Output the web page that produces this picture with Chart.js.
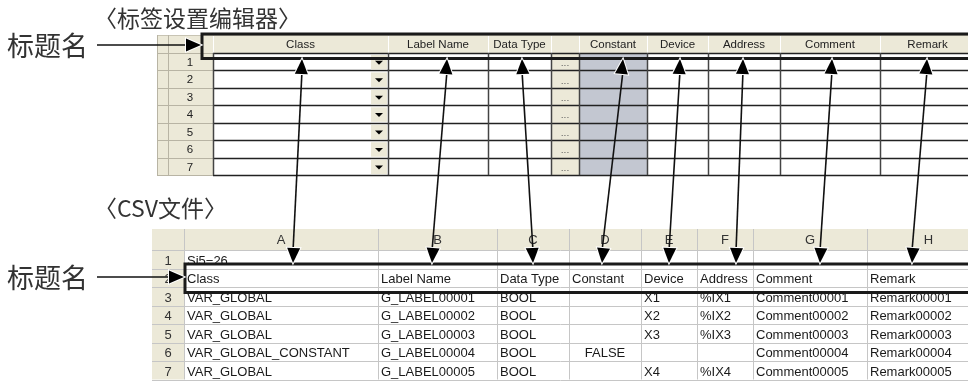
<!DOCTYPE html>
<html>
<head>
<meta charset="utf-8">
<script src="https://cdn.jsdelivr.net/npm/chart.js@4"></script>
<style>
  body { margin: 0; background: #fff; }
  canvas { display: block; }
</style>
</head>
<body>
<canvas id="diagrama" width="968" height="385"></canvas>
<script>
// Títulos y rótulos
var tituloEditor = '〈标签设置编辑器〉';
var tituloCsv = '〈CSV文件〉';
var rotuloTitulo = '标题名';

// Columnas del editor de etiquetas
var columnasEditor = ['Class', 'Label Name', 'Data Type', '', 'Constant', 'Device', 'Address', 'Comment', 'Remark'];
var filasEditor = ['1', '2', '3', '4', '5', '6', '7'];

// Hoja CSV
var letrasCsv = ['A', 'B', 'C', 'D', 'E', 'F', 'G', 'H'];
var filasCsvNum = ['1', '2', '3', '4', '5', '6', '7'];
var clasesCsv = ['Si5−26', 'Class', 'VAR_GLOBAL', 'VAR_GLOBAL', 'VAR_GLOBAL', 'VAR_GLOBAL_CONSTANT', 'VAR_GLOBAL'];
var nombresCsv = ['', 'Label Name', 'G_LABEL00001', 'G_LABEL00002', 'G_LABEL00003', 'G_LABEL00004', 'G_LABEL00005'];
var tiposCsv = ['', 'Data Type', 'BOOL', 'BOOL', 'BOOL', 'BOOL', 'BOOL'];
var constantesCsv = ['', 'Constant', '', '', '', 'FALSE', ''];
var dispositivosCsv = ['', 'Device', 'X1', 'X2', 'X3', '', 'X4'];
var direccionesCsv = ['', 'Address', '%IX1', '%IX2', '%IX3', '', '%IX4'];
var comentariosCsv = ['', 'Comment', 'Comment00001', 'Comment00002', 'Comment00003', 'Comment00004', 'Comment00005'];
var notasCsv = ['', 'Remark', 'Remark00001', 'Remark00002', 'Remark00003', 'Remark00004', 'Remark00005'];

// Flechas: punto en el editor -> punto en el CSV
var flechaArribaX = [302, 447, 522, 623, 680, 743, 832, 927];
var flechaAbajoX = [293, 432, 533, 602, 669, 736, 820, 912];

// Geometría (layout)
var bordesEditor = [157, 168, 213, 388, 488, 551, 579, 647, 708, 780, 880, 990];
var editorTop = 35, editorCab = 53, editorFila = 17.45;
var bordesCsv = [152, 184, 378, 497, 569, 641, 697, 753, 867, 990];
var csvTop = 229, csvCab = 250, csvFila = 18.5;
var flechaY1 = 59, flechaY2 = 263;

var columnasCsv = [clasesCsv, nombresCsv, tiposCsv, constantesCsv, dispositivosCsv, direccionesCsv, comentariosCsv, notasCsv];

var datasetsFlechas = flechaArribaX.map(function(x, i) {
    return {
        data: [{x: x, y: flechaY1 + 12}, {x: flechaAbajoX[i], y: flechaY2 - 12}],
        showLine: true,
        borderColor: '#111',
        borderWidth: 1.6,
        pointRadius: 0
    };
});
datasetsFlechas.push({
    data: [{x: 97, y: 45}, {x: 190, y: 45}],
    showLine: true, borderColor: '#111', borderWidth: 1.6, pointRadius: 0
});
datasetsFlechas.push({
    data: [{x: 97, y: 277}, {x: 173, y: 277}],
    showLine: true, borderColor: '#111', borderWidth: 1.6, pointRadius: 0
});

function punta(ctx, x0, y0, x1, y1, largo, ancho) {
    var ang = Math.atan2(y1 - y0, x1 - x0);
    ctx.save();
    ctx.translate(x1, y1);
    ctx.rotate(ang);
    ctx.beginPath();
    ctx.moveTo(0, 0);
    ctx.lineTo(-largo, -ancho);
    ctx.lineTo(-largo, ancho);
    ctx.closePath();
    ctx.lineWidth = 2;
    ctx.strokeStyle = '#fff';
    ctx.stroke();
    ctx.fillStyle = '#000';
    ctx.fill();
    ctx.restore();
}

var pluginDiagrama = {
    id: 'diagrama',
    beforeDatasetsDraw: function(chart) {
        var ctx = chart.ctx;
        var sx = chart.scales.x, sy = chart.scales.y;
        var X = function(v) { return sx.getPixelForValue(v); };
        var Y = function(v) { return sy.getPixelForValue(v); };
        ctx.save();

        // Títulos
        ctx.fillStyle = '#333';
        ctx.textBaseline = 'middle';
        ctx.textAlign = 'left';
        ctx.font = '23px "Noto Sans CJK SC"';
        ctx.fillText(tituloEditor, X(94), Y(18));
        ctx.fillText(tituloCsv, X(94), Y(208));
        ctx.font = '27px "Noto Sans CJK SC"';
        ctx.fillText(rotuloTitulo, X(7), Y(46));
        ctx.fillText(rotuloTitulo, X(7), Y(278));

        // ---------- Editor ----------
        var editorFin = editorCab + editorFila * filasEditor.length;
        ctx.fillStyle = '#ECE9D8';
        ctx.fillRect(X(157), Y(editorTop), X(990) - X(157), Y(editorCab) - Y(editorTop));
        ctx.fillRect(X(157), Y(editorTop), X(213) - X(157), Y(editorFin) - Y(editorTop));
        // columna Constant
        ctx.fillStyle = '#C3C7D1';
        ctx.fillRect(X(579), Y(editorCab), X(647) - X(579), Y(editorFin) - Y(editorCab));
        // botones "..."
        ctx.fillStyle = '#ECE9D8';
        ctx.fillRect(X(551), Y(editorCab), X(579) - X(551), Y(editorFin) - Y(editorCab));

        // líneas de cabecera (3D)
        ctx.lineWidth = 1;
        ctx.strokeStyle = '#fff';
        for (var i = 1; i < bordesEditor.length - 1; i++) {
            ctx.beginPath();
            ctx.moveTo(X(bordesEditor[i]) + 0.5, Y(editorTop));
            ctx.lineTo(X(bordesEditor[i]) + 0.5, Y(editorCab));
            ctx.stroke();
        }
        ctx.strokeStyle = '#C8C4B4';
        ctx.beginPath();
        ctx.moveTo(X(157), Y(editorTop) + 0.5);
        ctx.lineTo(X(990), Y(editorTop) + 0.5);
        ctx.stroke();

        // filas
        for (var r = 0; r <= filasEditor.length; r++) {
            var yy = Math.round(Y(editorCab + r * editorFila)) + 0.5;
            ctx.strokeStyle = '#B8B4A4';
            ctx.lineWidth = 1;
            ctx.beginPath(); ctx.moveTo(X(157), yy); ctx.lineTo(X(213), yy); ctx.stroke();
            ctx.strokeStyle = '#222';
            ctx.lineWidth = 1.5;
            ctx.beginPath(); ctx.moveTo(X(213), yy); ctx.lineTo(X(990), yy); ctx.stroke();
        }
        // verticales
        ctx.strokeStyle = '#B8B4A4';
        ctx.lineWidth = 1;
        [157, 168].forEach(function(b) {
            ctx.beginPath(); ctx.moveTo(X(b) + 0.5, Y(editorTop)); ctx.lineTo(X(b) + 0.5, Y(editorFin)); ctx.stroke();
        });
        ctx.strokeStyle = '#444';
        ctx.lineWidth = 1.5;
        for (var j = 2; j < bordesEditor.length - 1; j++) {
            var xx = Math.round(X(bordesEditor[j])) + 0.5;
            ctx.beginPath(); ctx.moveTo(xx, Y(editorCab)); ctx.lineTo(xx, Y(editorFin)); ctx.stroke();
        }

        // desplegables y botones
        filasEditor.forEach(function(n, r) {
            var y0 = editorCab + r * editorFila;
            ctx.fillStyle = '#ECE9D8';
            ctx.fillRect(X(371), Y(y0) + 2, X(387) - X(371), Y(editorFila) - Y(0) - 3);
            ctx.fillStyle = '#000';
            var cx = X(379), cy = Y(y0 + editorFila / 2) + 1;
            ctx.beginPath();
            ctx.moveTo(cx - 4, cy - 2); ctx.lineTo(cx + 4, cy - 2); ctx.lineTo(cx, cy + 2);
            ctx.closePath(); ctx.fill();
            ctx.font = '9px "DejaVu Sans"';
            ctx.textAlign = 'center';
            ctx.fillStyle = '#555';
            ctx.fillText('...', X(565), Y(y0 + editorFila / 2) + 2);
            ctx.font = '11.5px "Liberation Sans"';
            ctx.fillStyle = '#222';
            ctx.fillText(n, X(190), Y(y0 + editorFila / 2) + 1);
        });

        // textos de cabecera
        ctx.font = '11.5px "Liberation Sans"';
        ctx.textAlign = 'center';
        ctx.fillStyle = '#222';
        columnasEditor.forEach(function(c, k) {
            var a = bordesEditor[k + 2], b = bordesEditor[k + 3];
            if (k === columnasEditor.length - 1) b = 975;
            ctx.fillText(c, X((a + b) / 2), Y((editorTop + editorCab) / 2) + 1);
        });

        // ---------- CSV ----------
        var csvFin = csvCab + csvFila * filasCsvNum.length;
        ctx.fillStyle = '#ECE9D8';
        ctx.fillRect(X(152), Y(csvTop), X(990) - X(152), Y(csvCab) - Y(csvTop));
        ctx.fillRect(X(152), Y(csvTop), X(184) - X(152), Y(csvFin) - Y(csvTop));
        ctx.strokeStyle = '#C6C6C6';
        ctx.lineWidth = 1;
        for (var r2 = 0; r2 <= filasCsvNum.length; r2++) {
            var y2 = Math.round(Y(csvCab + r2 * csvFila)) + 0.5;
            ctx.beginPath(); ctx.moveTo(X(152), y2); ctx.lineTo(X(990), y2); ctx.stroke();
        }
        for (var j2 = 1; j2 < bordesCsv.length - 1; j2++) {
            var x2 = Math.round(X(bordesCsv[j2])) + 0.5;
            ctx.beginPath(); ctx.moveTo(x2, Y(csvTop)); ctx.lineTo(x2, Y(csvFin)); ctx.stroke();
        }
        ctx.font = '13px "Liberation Sans"';
        ctx.fillStyle = '#333';
        ctx.textAlign = 'center';
        letrasCsv.forEach(function(l, k) {
            ctx.fillText(l, X((bordesCsv[k + 1] + bordesCsv[k + 2]) / 2), Y((csvTop + csvCab) / 2) + 1);
        });
        filasCsvNum.forEach(function(n, r) {
            ctx.fillText(n, X(168), Y(csvCab + (r + 0.6) * csvFila));
        });
        ctx.fillStyle = '#1a1a1a';
        columnasCsv.forEach(function(col, k) {
            col.forEach(function(t, r) {
                if (!t) return;
                var yt = Y(csvCab + (r + 0.6) * csvFila);
                if (t === 'FALSE') {
                    ctx.textAlign = 'center';
                    ctx.fillText(t, X((bordesCsv[k + 1] + bordesCsv[k + 2]) / 2), yt);
                } else {
                    ctx.textAlign = 'left';
                    ctx.fillText(t, X(bordesCsv[k + 1] + 3), yt);
                }
            });
        });
        ctx.restore();
    },
    afterDatasetsDraw: function(chart) {
        var ctx = chart.ctx;
        var sx = chart.scales.x, sy = chart.scales.y;
        var X = function(v) { return sx.getPixelForValue(v); };
        var Y = function(v) { return sy.getPixelForValue(v); };
        ctx.save();
        // recuadros del nombre de título
        ctx.strokeStyle = '#1a1a1a';
        ctx.lineWidth = 3;
        ctx.strokeRect(X(202), Y(34), X(995) - X(202), Y(58.5) - Y(34));
        ctx.strokeRect(X(185), Y(264), X(995) - X(185), Y(292.5) - Y(264));
        // puntas de flecha
        flechaArribaX.forEach(function(xt, i) {
            var xb = flechaAbajoX[i];
            punta(ctx, X(xb), Y(flechaY2), X(xt), Y(flechaY1), 15, 6.5);
            punta(ctx, X(xt), Y(flechaY1), X(xb), Y(flechaY2), 15, 6.5);
        });
        punta(ctx, X(97), Y(45), X(201), Y(45), 15, 6.5);
        punta(ctx, X(97), Y(277), X(184), Y(277), 15, 6.5);
        ctx.restore();
    }
};

var ctx = document.getElementById('diagrama').getContext('2d');
new Chart(ctx, {
    type: 'scatter',
    data: { datasets: datasetsFlechas },
    options: {
        responsive: false,
        animation: false,
        layout: { padding: 0 },
        plugins: { legend: { display: false }, tooltip: { enabled: false } },
        scales: {
            x: { type: 'linear', min: 0, max: 968, display: false },
            y: { type: 'linear', min: 0, max: 385, reverse: true, display: false }
        }
    },
    plugins: [pluginDiagrama]
});
</script>
</body>
</html>
